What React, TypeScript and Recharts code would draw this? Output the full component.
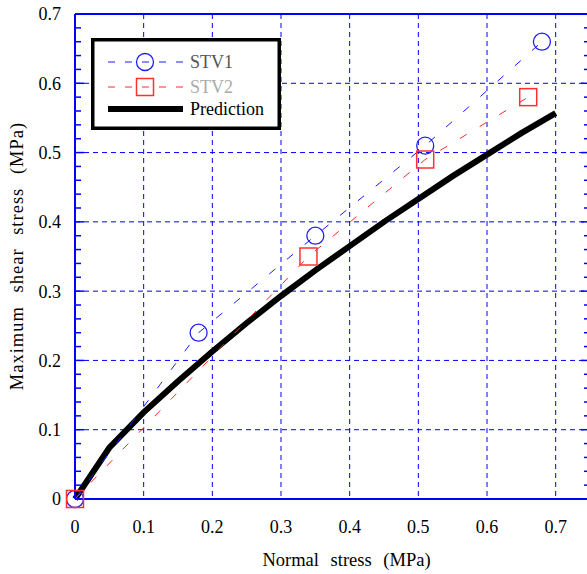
import React from 'react';
import { ComposedChart, Line, XAxis, YAxis, CartesianGrid, Legend } from 'recharts';

const stv1X = [0, 0.18, 0.35, 0.51, 0.68];
const stv1Y = [0, 0.24, 0.38, 0.51, 0.66];
const stv2X = [0, 0.34, 0.51, 0.66];
const stv2Y = [0, 0.35, 0.49, 0.58];
const predX = [0, 0.05, 0.1, 0.15, 0.2, 0.25, 0.3, 0.35, 0.4, 0.45, 0.5, 0.55, 0.6, 0.65, 0.7];
const predY = [0, 0.074, 0.125, 0.17, 0.213, 0.254, 0.293, 0.33, 0.365, 0.4, 0.433, 0.466, 0.497, 0.528, 0.557];

const xMajor = [0, 0.1, 0.2, 0.3, 0.4, 0.5, 0.6, 0.7];
const xMinor = [0.02, 0.04, 0.06, 0.08, 0.12, 0.14, 0.16, 0.18, 0.22, 0.24, 0.26, 0.28, 0.32, 0.34, 0.36, 0.38, 0.42, 0.44, 0.46, 0.48, 0.52, 0.54, 0.56, 0.58, 0.62, 0.64, 0.66, 0.68, 0.72, 0.74];
const yMajor = [0, 0.1, 0.2, 0.3, 0.4, 0.5, 0.6, 0.7];
const yMinor = [0.02, 0.04, 0.06, 0.08, 0.12, 0.14, 0.16, 0.18, 0.22, 0.24, 0.26, 0.28, 0.32, 0.34, 0.36, 0.38, 0.42, 0.44, 0.46, 0.48, 0.52, 0.54, 0.56, 0.58, 0.62, 0.64, 0.66, 0.68];

const seriesNames = ['STV1', 'STV2', 'Prediction'];
const xTitle = 'Normal stress (MPa)';
const yTitle = 'Maximum shear stress (MPa)';

const stv1Data = stv1X.map((x, i) => ({ x, y: stv1Y[i] }));
const stv2Data = stv2X.map((x, i) => ({ x, y: stv2Y[i] }));
const predData = predX.map((x, i) => ({ x, y: predY[i] }));

const FONT = '"Liberation Serif", "Times New Roman", serif';
const AXIS_BLUE = '#0000ff';
const BLUE = '#1a1aff';
const RED = '#ff2a2a';
const XDOM: [number, number] = [0, 0.75];
const YDOM: [number, number] = [0, 0.7];
const THIN = 0.01;

const NoTick = () => <g />;

const CircleDot = (p: any) => (
  <circle key={`c${p.index}`} cx={p.cx} cy={p.cy} r={8.5} fill="none" stroke="#2020ee" strokeWidth={1.3} />
);
const SquareDot = (p: any) => (
  <rect key={`s${p.index}`} x={p.cx - 8.5} y={p.cy - 8.5} width={17} height={17} fill="none" stroke="#ff3030" strokeWidth={1.5} />
);

const XTitle = (props: any) => {
  const vb = props.viewBox;
  return (
    <text x={vb.x + vb.width / 2 + 14} y={vb.y + vb.height - 8} textAnchor="middle" fill="#000"
      style={{ fontFamily: FONT, fontSize: 18.5, wordSpacing: 7 }}>{xTitle}</text>
  );
};
const YTitle = (props: any) => {
  const vb = props.viewBox;
  const cx = vb.x + 17;
  const cy = 256;
  return (
    <text x={cx} y={cy} textAnchor="middle" dominantBaseline="central" fill="#000" transform={`rotate(-90, ${cx}, ${cy})`}
      style={{ fontFamily: FONT, fontSize: 18.5, wordSpacing: 8, letterSpacing: 1 }}>{yTitle}</text>
  );
};

const LegendBox = () => {
  const rows = [24, 49, 71];
  return (
    <svg width={190} height={92} style={{ display: 'block' }}>
      <rect x={1.75} y={1.75} width={186.5} height={88.5} fill="#fff" stroke="#000" strokeWidth={3.5} />
      <line x1={17} x2={92} y1={rows[0]} y2={rows[0]} stroke={BLUE} strokeWidth={1} strokeDasharray="7 10" />
      <circle cx={54} cy={rows[0]} r={8.5} fill="none" stroke="#2020ee" strokeWidth={1.3} />
      <line x1={17} x2={92} y1={rows[1]} y2={rows[1]} stroke={RED} strokeWidth={1} strokeDasharray="7 10" />
      <rect x={54 - 8.5} y={rows[1] - 8.5} width={17} height={17} fill="none" stroke="#ff3030" strokeWidth={1.5} />
      <line x1={17} x2={92} y1={rows[2]} y2={rows[2]} stroke="#000" strokeWidth={6} />
      <text x={99} y={rows[0] + 6} fill="#555" style={{ fontFamily: FONT, fontSize: 18 }}>{seriesNames[0]}</text>
      <text x={99} y={rows[1] + 6} fill="#aaa" style={{ fontFamily: FONT, fontSize: 18 }}>{seriesNames[1]}</text>
      <text x={99} y={rows[2] + 6} fill="#000" style={{ fontFamily: FONT, fontSize: 18 }}>{seriesNames[2]}</text>
    </svg>
  );
};

const tickStyle = { fill: '#000', fontSize: 18, fontFamily: FONT };
const tickLineStyle = { stroke: AXIS_BLUE, strokeWidth: 1.5 };
const css = `body{margin:0;overflow:hidden;}
.recharts-cartesian-axis-tick-value, .recharts-cartesian-axis-tick-value tspan { font-family: "Liberation Serif", "Times New Roman", serif !important; font-size: 18px; fill: #000; }`;

export default function App() {
  return (
    <div style={{ width: 587, height: 574, overflow: 'hidden', position: 'relative', background: '#fff' }}>
      <style>{css}</style>
      <ComposedChart width={590} height={574} margin={{ top: 14, right: 0, bottom: 0, left: 0 }}>
        <CartesianGrid stroke={AXIS_BLUE} strokeDasharray="5 4" strokeWidth={1} />

        <Line data={predData} dataKey="y" name={seriesNames[2]} type="linear" stroke="#000" strokeWidth={6}
          dot={false} activeDot={false} isAnimationActive={false} />
        <Line data={stv1Data} dataKey="y" name={seriesNames[0]} type="linear" stroke={BLUE} strokeWidth={1}
          strokeDasharray="8 15" dot={CircleDot} activeDot={false} isAnimationActive={false} />
        <Line data={stv2Data} dataKey="y" name={seriesNames[1]} type="linear" stroke={RED} strokeWidth={1}
          strokeDasharray="8 15" dot={SquareDot} activeDot={false} isAnimationActive={false} />

        <XAxis type="number" dataKey="x" domain={XDOM} ticks={xMajor} interval={0} height={75}
          stroke={AXIS_BLUE} axisLine={{ stroke: AXIS_BLUE, strokeWidth: 2 }} tickLine={false} tickSize={0} tickMargin={21}
          tick={tickStyle} label={XTitle} />
        <XAxis xAxisId="bMin" mirror type="number" domain={XDOM} allowDataOverflow ticks={xMinor} interval={0} height={THIN}
          axisLine={false} tickLine={tickLineStyle} tickSize={6} tick={NoTick} />
        <XAxis xAxisId="bMaj" mirror type="number" domain={XDOM} allowDataOverflow ticks={xMajor} interval={0} height={THIN}
          axisLine={false} tickLine={tickLineStyle} tickSize={9} tick={NoTick} />
        <XAxis xAxisId="tMin" mirror orientation="top" type="number" domain={XDOM} allowDataOverflow ticks={xMinor} interval={0} height={THIN}
          axisLine={{ stroke: AXIS_BLUE, strokeWidth: 2 }} tickLine={tickLineStyle} tickSize={6} tick={NoTick} />
        <XAxis xAxisId="tMaj" mirror orientation="top" type="number" domain={XDOM} allowDataOverflow ticks={xMajor} interval={0} height={THIN}
          axisLine={false} tickLine={tickLineStyle} tickSize={9} tick={NoTick} />

        <YAxis type="number" domain={YDOM} ticks={yMajor} interval={0} width={75}
          stroke={AXIS_BLUE} axisLine={{ stroke: AXIS_BLUE, strokeWidth: 2 }} tickLine={false} tickSize={0} tickMargin={14}
          tick={tickStyle} label={YTitle} />
        <YAxis yAxisId="lMin" mirror type="number" domain={YDOM} allowDataOverflow ticks={yMinor} interval={0} width={THIN}
          axisLine={false} tickLine={tickLineStyle} tickSize={6} tick={NoTick} />
        <YAxis yAxisId="lMaj" mirror type="number" domain={YDOM} allowDataOverflow ticks={yMajor} interval={0} width={THIN}
          axisLine={false} tickLine={tickLineStyle} tickSize={9} tick={NoTick} />
        <YAxis yAxisId="rMin" mirror orientation="right" type="number" domain={YDOM} allowDataOverflow ticks={yMinor} interval={0} width={THIN}
          axisLine={{ stroke: AXIS_BLUE, strokeWidth: 2 }} tickLine={tickLineStyle} tickSize={6} tick={NoTick} />
        <YAxis yAxisId="rMaj" mirror orientation="right" type="number" domain={YDOM} allowDataOverflow ticks={yMajor} interval={0} width={THIN}
          axisLine={false} tickLine={tickLineStyle} tickSize={9} tick={NoTick} />

        <Legend content={LegendBox} layout="vertical" align="center" verticalAlign="middle"
          wrapperStyle={{ position: 'absolute', left: 91, top: 38, width: 190, height: 92 }} />
      </ComposedChart>
    </div>
  );
}
